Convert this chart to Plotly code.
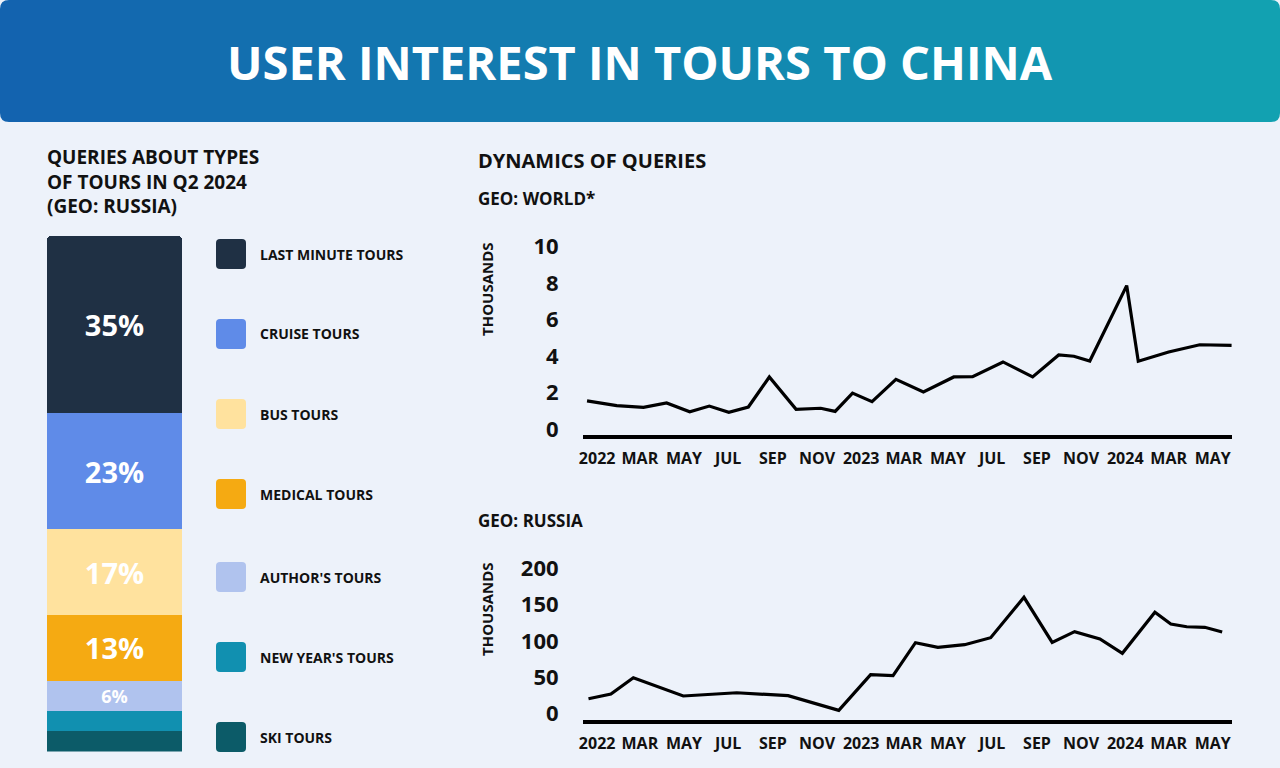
import plotly.graph_objects as go

W, H = 1280, 768

# ---------------- DATA ----------------
tour_types = ["LAST MINUTE TOURS", "CRUISE TOURS", "BUS TOURS", "MEDICAL TOURS",
              "AUTHOR'S TOURS", "NEW YEAR'S TOURS", "SKI TOURS"]
tour_share = [35, 23, 17, 13, 6, 4, 4]

world_dates = ["2021-12-18", "2022-01-28", "2022-03-06", "2022-04-07", "2022-05-09",
               "2022-06-05", "2022-07-02", "2022-07-29", "2022-08-27", "2022-10-03",
               "2022-11-06", "2022-11-26", "2022-12-20", "2023-01-16", "2023-02-18",
               "2023-03-28", "2023-05-09", "2023-06-04", "2023-07-16", "2023-08-26",
               "2023-10-01", "2023-10-22", "2023-11-13", "2024-01-03", "2024-01-19",
               "2024-03-01", "2024-04-13", "2024-05-27"]
world_values = [1.55, 1.29, 1.20, 1.44, 0.96, 1.27, 0.93, 1.22, 2.86, 1.09,
                1.15, 0.98, 1.98, 1.51, 2.73, 2.04, 2.86, 2.87, 3.68, 2.86,
                4.06, 3.99, 3.73, 7.85, 3.72, 4.22, 4.62, 4.59]

russia_dates = ["2021-12-20", "2022-01-20", "2022-02-20", "2022-04-30", "2022-07-13",
                "2022-09-22", "2022-12-01", "2023-01-14", "2023-02-14", "2023-03-17",
                "2023-04-17", "2023-05-24", "2023-06-29", "2023-08-14", "2023-09-22",
                "2023-10-23", "2023-11-27", "2023-12-28", "2024-02-11", "2024-03-04",
                "2024-03-26", "2024-04-20", "2024-05-14"]
russia_values = [20.1, 26.6, 49.1, 23.9, 28.4, 24.3, 4.1, 53.2, 51.9, 97.4,
                 91.0, 94.6, 104.3, 160.0, 97.9, 112.6, 102.5, 82.8, 139.3, 123.2,
                 119.4, 118.6, 112.1]

month_ticks = ["2022-01-01", "2022-03-01", "2022-05-01", "2022-07-01", "2022-09-01",
               "2022-11-01", "2023-01-01", "2023-03-01", "2023-05-01", "2023-07-01",
               "2023-09-01", "2023-11-01", "2024-01-01", "2024-03-01", "2024-05-01"]
month_labels = ["2022", "MAR", "MAY", "JUL", "SEP", "NOV", "2023", "MAR", "MAY",
                "JUL", "SEP", "NOV", "2024", "MAR", "MAY"]
world_yticks = [0, 2, 4, 6, 8, 10]
russia_yticks = [0, 50, 100, 150, 200]

# ---------------- STYLE ----------------
FONT = "Open Sans"
INK = "#111111"
BG = "#edf2fa"
tour_colors = ["#1f3044", "#5f8be8", "#ffe29e", "#f5aa12", "#b0c3ee", "#1190b0", "#0c5b68"]


def px(x):
    return x / W


def py(y):
    return 1 - y / H


def rrect_path(x0, y0, x1, y1, r):
    pts = [
        ("M", [(x0 + r, y0)]),
        ("L", [(x1 - r, y0)]),
        ("Q", [(x1, y0), (x1, y0 + r)]),
        ("L", [(x1, y1 - r)]),
        ("Q", [(x1, y1), (x1 - r, y1)]),
        ("L", [(x0 + r, y1)]),
        ("Q", [(x0, y1), (x0, y1 - r)]),
        ("L", [(x0, y0 + r)]),
        ("Q", [(x0, y0), (x0 + r, y0)]),
    ]
    s = ""
    for cmd, ps in pts:
        s += cmd + " " + " ".join(f"{px(a):.5f},{py(b):.5f}" for a, b in ps) + " "
    return s + "Z"


fig = go.Figure()

# stacked bar (bottom first)
for i in reversed(range(len(tour_types))):
    v = tour_share[i]
    fig.add_trace(go.Bar(
        x=[0], y=[v], width=1,
        marker=dict(color=tour_colors[i], line=dict(width=0)),
        text=[f"{v}%" if v >= 5 else ""],
        textposition="inside", insidetextanchor="middle", textangle=0,
        textfont=dict(family=FONT, color="white", size=29 if v >= 10 else 20, weight=700),
        xaxis="x", yaxis="y", showlegend=False, name=tour_types[i],
    ))

# world line
fig.add_trace(go.Scatter(
    x=world_dates, y=world_values, mode="lines",
    line=dict(color="#000000", width=3.2),
    xaxis="x2", yaxis="y2", showlegend=False,
))
# russia line
fig.add_trace(go.Scatter(
    x=russia_dates, y=russia_values, mode="lines",
    line=dict(color="#000000", width=3.2),
    xaxis="x3", yaxis="y3", showlegend=False,
))

shapes = []
# header gradient
c0 = (19, 99, 175)
c1 = (18, 161, 177)
n = 128
for k in range(n):
    t = k / (n - 1)
    col = tuple(round(c0[j] + (c1[j] - c0[j]) * t) for j in range(3))
    xa = k * W / n
    xb = (k + 1) * W / n + 1
    shapes.append(dict(type="rect", xref="paper", yref="paper",
                       x0=px(xa), x1=px(min(xb, W)), y0=py(122), y1=py(0),
                       fillcolor="rgb(%d,%d,%d)" % col, line=dict(width=0), layer="below"))
# rounded corner masks
R = 9
for (cx, cy, sx, sy) in [(0, 0, 1, 1), (W, 0, -1, 1), (0, 122, 1, -1), (W, 122, -1, -1)]:
    p = (f"M {px(cx):.5f},{py(cy + sy * R):.5f} Q {px(cx):.5f},{py(cy):.5f} "
         f"{px(cx + sx * R):.5f},{py(cy):.5f} L {px(cx):.5f},{py(cy):.5f} Z")
    shapes.append(dict(type="path", xref="paper", yref="paper", path=p,
                       fillcolor=BG, line=dict(width=0), layer="below"))

# legend squares
legend_y = [254, 334, 414, 494, 577, 657, 737]
annotations = []
for i, name in enumerate(tour_types):
    yc = legend_y[i]
    shapes.append(dict(type="path", xref="paper", yref="paper",
                       path=rrect_path(216, yc - 15, 246, yc + 15, 4),
                       fillcolor=tour_colors[i], line=dict(width=0)))
    annotations.append(dict(text=name, x=px(258), y=py(yc), xref="paper", yref="paper",
                            xanchor="left", yanchor="middle", showarrow=False,
                            font=dict(family=FONT, size=14, color=INK, weight=700)))


def ann(text, x, y, size, color=INK, xanchor="left", angle=0):
    annotations.append(dict(text=text, x=px(x), y=py(y), xref="paper", yref="paper",
                            xanchor=xanchor, yanchor="middle", showarrow=False, textangle=angle,
                            align="left",
                            font=dict(family=FONT, size=size, color=color, weight=700)))


ann("USER INTEREST IN TOURS TO CHINA", 640, 62, 47, color="white", xanchor="center")
ann("QUERIES ABOUT TYPES<br>OF TOURS IN Q2 2024<br>(GEO: RUSSIA)", 45, 182, 19)
ann("DYNAMICS OF QUERIES", 476, 161, 20)
ann("GEO: WORLD*", 476, 199, 17)
ann("GEO: RUSSIA", 476, 520, 17)
ann("THOUSANDS", 487, 289, 15, xanchor="center", angle=-90)
ann("THOUSANDS", 487, 609, 15, xanchor="center", angle=-90)

xdom = [px(583), px(1232)]
xrange_ = ["2021-12-12 10:00", "2024-05-27 14:00"]
tickfont_x = dict(family=FONT, size=16, color=INK, weight=700)
tickfont_y = dict(family=FONT, size=22, color=INK, weight=700)

date_axis = dict(domain=xdom, type="date", range=xrange_, tickmode="array",
                 tickvals=month_ticks, ticktext=month_labels, tickfont=tickfont_x,
                 showgrid=False, zeroline=False, showline=True, linecolor="#000000",
                 linewidth=3.5, ticks="outside", ticklen=6, tickcolor="rgba(0,0,0,0)",
                 fixedrange=True, automargin=False)

fig.update_layout(
    template="none",
    width=W, height=H,
    margin=dict(l=0, r=0, t=0, b=0, pad=0, autoexpand=False),
    paper_bgcolor=BG, plot_bgcolor="rgba(0,0,0,0)",
    barmode="stack", barcornerradius=4,
    font=dict(family=FONT, color=INK),
    xaxis=dict(domain=[px(47), px(182)], range=[-0.5, 0.5], visible=False, fixedrange=True,
               automargin=False),
    yaxis=dict(domain=[py(751.5), py(236)], range=[0, sum(tour_share)], visible=False,
               fixedrange=True, automargin=False),
    xaxis2=dict(anchor="y2", **date_axis),
    yaxis2=dict(domain=[py(435), py(240)], range=[-0.31, 10.34], anchor="x2",
                tickmode="array", tickvals=world_yticks, tickfont=tickfont_y,
                showgrid=False, zeroline=False, showline=False, automargin=False,
                ticks="outside", ticklen=19, tickcolor="rgba(0,0,0,0)", fixedrange=True),
    xaxis3=dict(anchor="y3", **date_axis),
    yaxis3=dict(domain=[py(720), py(560)], range=[-9.2, 211.4], anchor="x3",
                tickmode="array", tickvals=russia_yticks, tickfont=tickfont_y,
                showgrid=False, zeroline=False, showline=False, automargin=False,
                ticks="outside", ticklen=19, tickcolor="rgba(0,0,0,0)", fixedrange=True),
    shapes=shapes,
    annotations=annotations,
)

fig.write_html(
    "out.html",
    post_script="document.body.style.margin='0';document.body.style.padding='0';"
                "document.documentElement.style.overflow='hidden';",
)
